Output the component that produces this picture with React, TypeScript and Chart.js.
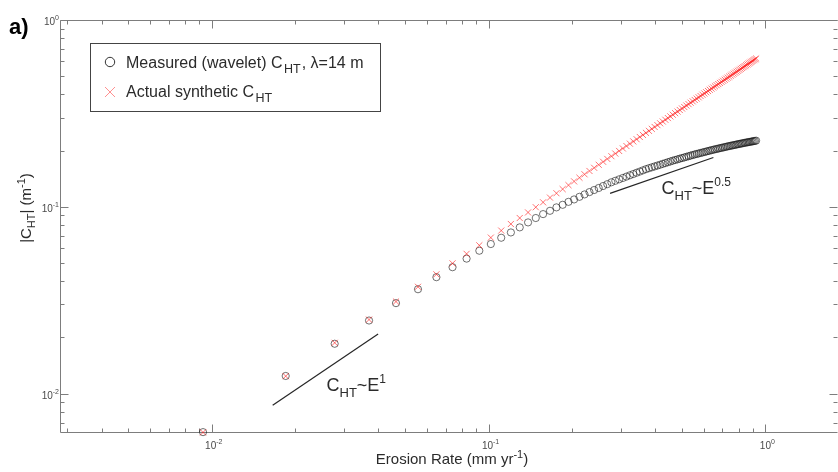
import { useEffect, useRef } from "react";
import { Chart, registerables } from "chart.js";

Chart.register(...registerables);

// Erosion rate E (mm/yr) for each sample
const erosionRate = [
  0.0093, 0.0185, 0.0278, 0.037, 0.0463, 0.0556, 0.0648, 0.0741, 0.0833, 0.0926,
  0.1019, 0.1111, 0.1204, 0.1296, 0.1389, 0.1481, 0.1574, 0.1667, 0.1759, 0.1852,
  0.1944, 0.2037, 0.213, 0.2222, 0.2315, 0.2407, 0.25, 0.2593, 0.2685, 0.2778,
  0.287, 0.2963, 0.3056, 0.3148, 0.3241, 0.3333, 0.3426, 0.3519, 0.3611, 0.3704,
  0.3796, 0.3889, 0.3981, 0.4074, 0.4167, 0.4259, 0.4352, 0.4444, 0.4537, 0.463,
  0.4722, 0.4815, 0.4907, 0.5, 0.5093, 0.5185, 0.5278, 0.537, 0.5463, 0.5556,
  0.5648, 0.5741, 0.5833, 0.5926, 0.6019, 0.6111, 0.6204, 0.6296, 0.6389, 0.6481,
  0.6574, 0.6667, 0.6759, 0.6852, 0.6944, 0.7037, 0.713, 0.7222, 0.7315, 0.7407,
  0.75, 0.7593, 0.7685, 0.7778, 0.787, 0.7963, 0.8056, 0.8148, 0.8241, 0.8333,
  0.8426, 0.8519, 0.8611, 0.8704, 0.8796, 0.8889, 0.8981, 0.9074, 0.9167, 0.9259,
];

// Measured (wavelet) hilltop curvature |C_HT| (1/m), lambda = 14 m
const measuredC = [
  0.00622, 0.01243, 0.01849, 0.02462, 0.0305, 0.0362, 0.042, 0.0475, 0.0528, 0.0582,
  0.0632, 0.0683, 0.0729, 0.0776, 0.0825, 0.0871, 0.0914, 0.0952, 0.0993, 0.1025,
  0.1063, 0.1095, 0.1131, 0.1165, 0.1199, 0.123, 0.1261, 0.1292, 0.1322, 0.1353,
  0.1378, 0.1403, 0.1427, 0.1451, 0.1475, 0.1498, 0.1522, 0.1544, 0.1567, 0.159,
  0.1609, 0.1627, 0.1645, 0.1663, 0.168, 0.1698, 0.1715, 0.1732, 0.1749, 0.1766,
  0.1781, 0.1795, 0.181, 0.1824, 0.1838, 0.1852, 0.1866, 0.188, 0.1893, 0.1907,
  0.1918, 0.193, 0.1942, 0.1953, 0.1965, 0.1976, 0.1988, 0.1999, 0.201, 0.2021,
  0.2031, 0.204, 0.205, 0.206, 0.2069, 0.2078, 0.2088, 0.2097, 0.2106, 0.2115,
  0.2123, 0.2131, 0.2139, 0.2147, 0.2155, 0.2163, 0.2171, 0.2178, 0.2186, 0.2194,
  0.2201, 0.2208, 0.2214, 0.2221, 0.2227, 0.2234, 0.224, 0.2247, 0.2253, 0.226,
];

// Actual synthetic hilltop curvature |C_HT| (1/m)
const syntheticC = [
  0.0062, 0.0124, 0.0187, 0.0249, 0.0311, 0.0373, 0.0435, 0.0498, 0.056, 0.0622,
  0.0684, 0.0746, 0.0809, 0.0871, 0.0933, 0.0995, 0.1057, 0.112, 0.1182, 0.1244,
  0.1306, 0.1368, 0.1431, 0.1493, 0.1555, 0.1617, 0.1679, 0.1742, 0.1804, 0.1866,
  0.1928, 0.199, 0.2053, 0.2115, 0.2177, 0.2239, 0.2301, 0.2364, 0.2426, 0.2488,
  0.255, 0.2612, 0.2675, 0.2737, 0.2799, 0.2861, 0.2923, 0.2986, 0.3048, 0.311,
  0.3172, 0.3234, 0.3297, 0.3359, 0.3421, 0.3483, 0.3545, 0.3608, 0.367, 0.3732,
  0.3794, 0.3856, 0.3919, 0.3981, 0.4043, 0.4105, 0.4167, 0.423, 0.4292, 0.4354,
  0.4416, 0.4478, 0.4541, 0.4603, 0.4665, 0.4727, 0.4789, 0.4852, 0.4914, 0.4976,
  0.5038, 0.51, 0.5163, 0.5225, 0.5287, 0.5349, 0.5411, 0.5474, 0.5536, 0.5598,
  0.566, 0.5722, 0.5785, 0.5847, 0.5909, 0.5971, 0.6033, 0.6096, 0.6158, 0.622,
];

// Reference slope guides
const slopeOneE = [0.0166, 0.0399];
const slopeOneC = [0.00866, 0.02084];
const slopeHalfE = [0.2747, 0.649];
const slopeHalfC = [0.118, 0.1836];

// Axis ranges and decade ticks
const xRange = [0.00283, 1.81];
const yRange = [0.00623, 1];
const decadeTicks = [0.01, 0.1, 1];
const decadeExponents = ["-2", "-1", "0"];

const FONT = "'Liberation Sans', Arial, Helvetica, sans-serif";
const AXIS_COLOR = "#7d7d7d";
const TICK_TEXT = "#4a4a4a";
const TEXT_DARK = "#2b2b2b";

type Seg = { t: string; size: number; dy?: number; bold?: boolean; gap?: number };

function segFont(s: Seg) {
  return `${s.bold ? "bold " : ""}${s.size}px ${FONT}`;
}

function drawRich(
  ctx: CanvasRenderingContext2D,
  segs: Seg[],
  x: number,
  y: number,
  align: "left" | "center" | "right",
  color: string
) {
  let w = 0;
  for (const s of segs) {
    ctx.font = segFont(s);
    w += ctx.measureText(s.t).width + (s.gap || 0);
  }
  let cx = align === "left" ? x : align === "center" ? x - w / 2 : x - w;
  ctx.fillStyle = color;
  ctx.textAlign = "left";
  ctx.textBaseline = "alphabetic";
  for (const s of segs) {
    ctx.font = segFont(s);
    ctx.fillText(s.t, cx, y + (s.dy || 0));
    cx += ctx.measureText(s.t).width + (s.gap || 0);
  }
}

function minorTicks(min: number, max: number) {
  const out: number[] = [];
  const e0 = Math.floor(Math.log10(min));
  const e1 = Math.ceil(Math.log10(max));
  for (let e = e0; e <= e1; e++) {
    for (let m = 2; m <= 9; m++) {
      const v = m * Math.pow(10, e);
      if (v >= min && v <= max) out.push(v);
    }
  }
  return out;
}

const framePlugin = {
  id: "logFrame",
  beforeDatasetsDraw(chart: any) {
    const { ctx, chartArea: a, scales } = chart;
    const xs = scales.x;
    const ys = scales.y;
    const L = Math.round(a.left) + 0.5;
    const R = Math.round(a.right) + 0.5;
    const T = Math.round(a.top) + 0.5;
    const B = Math.round(a.bottom) + 0.5;
    ctx.save();
    ctx.strokeStyle = AXIS_COLOR;
    ctx.lineWidth = 1;
    ctx.beginPath();
    ctx.moveTo(R, T);
    ctx.lineTo(L, T);
    ctx.lineTo(L, B);
    ctx.lineTo(R, B);
    ctx.stroke();

    const major = 8;
    const minor = 4;
    ctx.beginPath();
    const xt = [
      ...decadeTicks.map((v) => [v, major]),
      ...minorTicks(xRange[0], xRange[1]).map((v) => [v, minor]),
    ];
    for (const [v, len] of xt) {
      if (v < xRange[0] || v > xRange[1]) continue;
      const px = Math.round(xs.getPixelForValue(v)) + 0.5;
      ctx.moveTo(px, B);
      ctx.lineTo(px, B - len);
      ctx.moveTo(px, T);
      ctx.lineTo(px, T + len);
    }
    const yt = [
      ...decadeTicks.map((v) => [v, major]),
      ...minorTicks(yRange[0], yRange[1]).map((v) => [v, minor]),
    ];
    for (const [v, len] of yt) {
      if (v < yRange[0] || v > yRange[1]) continue;
      const py = Math.round(ys.getPixelForValue(v)) + 0.5;
      ctx.moveTo(L, py);
      ctx.lineTo(L + len, py);
      ctx.moveTo(R, py);
      ctx.lineTo(R - len, py);
    }
    ctx.stroke();
    ctx.restore();
  },
  afterDraw(chart: any) {
    const { ctx, chartArea: a, scales } = chart;
    const xs = scales.x;
    const ys = scales.y;
    ctx.save();

    // decade tick labels
    decadeTicks.forEach((v, i) => {
      const segs: Seg[] = [
        { t: "10", size: 10 },
        { t: decadeExponents[i], size: 7, dy: -5 },
      ];
      const px = xs.getPixelForValue(v);
      drawRich(ctx, segs, px + 2, a.bottom + 17, "center", TICK_TEXT);
      const py = ys.getPixelForValue(v);
      drawRich(ctx, segs, a.left - 1, py + 5, "right", TICK_TEXT);
    });

    // axis titles
    drawRich(
      ctx,
      [
        { t: "Erosion Rate (mm yr", size: 15 },
        { t: "-1", size: 11, dy: -6 },
        { t: ")", size: 15 },
      ],
      452,
      463.5,
      "center",
      TEXT_DARK
    );
    ctx.save();
    ctx.translate(31, 208);
    ctx.rotate(-Math.PI / 2);
    drawRich(
      ctx,
      [
        { t: "|C", size: 15 },
        { t: "HT", size: 11, dy: 4 },
        { t: "| (m", size: 15 },
        { t: "-1", size: 11, dy: -6 },
        { t: ")", size: 15 },
      ],
      0,
      0,
      "center",
      TEXT_DARK
    );
    ctx.restore();

    // panel label
    drawRich(ctx, [{ t: "a)", size: 22, bold: true }], 9, 34, "left", "#000");

    // slope annotations
    drawRich(
      ctx,
      [
        { t: "C", size: 18 },
        { t: "HT", size: 13, dy: 6 },
        { t: "~E", size: 18 },
        { t: "1", size: 12, dy: -8 },
      ],
      326.5,
      390.7,
      "left",
      TEXT_DARK
    );
    drawRich(
      ctx,
      [
        { t: "C", size: 18 },
        { t: "HT", size: 13, dy: 6 },
        { t: "~E", size: 18 },
        { t: "0.5", size: 12, dy: -8 },
      ],
      661.5,
      194.3,
      "left",
      TEXT_DARK
    );

    // legend
    ctx.fillStyle = "#fff";
    ctx.fillRect(90.5, 43.5, 290, 68);
    ctx.strokeStyle = "#444";
    ctx.lineWidth = 1;
    ctx.strokeRect(90.5, 43.5, 290, 68);

    ctx.beginPath();
    ctx.strokeStyle = "#333";
    ctx.arc(110, 62, 4.7, 0, Math.PI * 2);
    ctx.stroke();

    ctx.beginPath();
    ctx.strokeStyle = "rgba(255,70,70,0.6)";
    ctx.moveTo(105, 87);
    ctx.lineTo(115, 97);
    ctx.moveTo(115, 87);
    ctx.lineTo(105, 97);
    ctx.stroke();

    drawRich(
      ctx,
      [
        { t: "Measured (wavelet) C", size: 16, gap: 1.5 },
        { t: "HT", size: 12.5, dy: 5, gap: 1 },
        { t: ", λ=14 m", size: 16 },
      ],
      126,
      67.5,
      "left",
      TEXT_DARK
    );
    drawRich(
      ctx,
      [
        { t: "Actual synthetic C", size: 16, gap: 1.5 },
        { t: "HT", size: 12.5, dy: 5 },
      ],
      126,
      97,
      "left",
      TEXT_DARK
    );

    ctx.restore();
  },
};

export default function App() {
  const canvasRef = useRef<HTMLCanvasElement | null>(null);

  useEffect(() => {
    const canvas = canvasRef.current;
    if (!canvas) return;
    const chart = new Chart(canvas, {
      type: "scatter",
      data: {
        datasets: [
          {
            label: "Actual synthetic",
            data: erosionRate.map((e, i) => ({ x: e, y: syntheticC[i] })),
            pointStyle: "crossRot",
            pointRadius: 4.3,
            borderColor: "rgba(255,20,20,0.6)",
            backgroundColor: "rgba(255,20,20,0.6)",
            borderWidth: 1,
            showLine: false,
            clip: false,
            order: 0,
          },
          {
            label: "Measured (wavelet)",
            data: erosionRate.map((e, i) => ({ x: e, y: measuredC[i] })),
            pointStyle: "circle",
            pointRadius: 3.6,
            borderColor: "rgba(20,20,20,0.6)",
            backgroundColor: "rgba(0,0,0,0)",
            borderWidth: 1,
            showLine: false,
            clip: false,
            order: 1,
          },
          {
            label: "E^1",
            data: slopeOneE.map((e, i) => ({ x: e, y: slopeOneC[i] })),
            showLine: true,
            pointRadius: 0,
            borderColor: "#262626",
            borderWidth: 1.2,
            order: 2,
          },
          {
            label: "E^0.5",
            data: slopeHalfE.map((e, i) => ({ x: e, y: slopeHalfC[i] })),
            showLine: true,
            pointRadius: 0,
            borderColor: "#262626",
            borderWidth: 1.2,
            order: 2,
          },
        ],
      },
      options: {
        animation: false,
        responsive: false,
        devicePixelRatio: 1,
        events: [],
        layout: { padding: { left: 60, right: 2, top: 20, bottom: 40 } },
        scales: {
          x: { type: "logarithmic", min: xRange[0], max: xRange[1], display: false },
          y: { type: "logarithmic", min: yRange[0], max: yRange[1], display: false },
        },
        plugins: {
          legend: { display: false },
          tooltip: { enabled: false },
        },
      },
      plugins: [framePlugin],
    });
    return () => chart.destroy();
  }, []);

  return (
    <div
      style={{
        position: "fixed",
        left: 0,
        top: 0,
        width: 838,
        height: 472,
        overflow: "hidden",
        background: "#fff",
      }}
    >
      <canvas ref={canvasRef} width={842} height={472} style={{ display: "block" }} />
    </div>
  );
}
